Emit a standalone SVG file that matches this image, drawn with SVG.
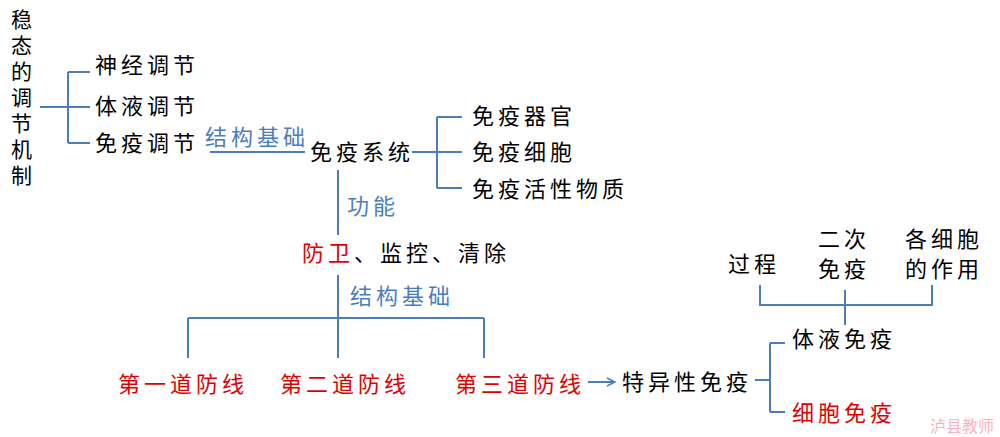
<svg xmlns="http://www.w3.org/2000/svg" width="1000" height="437" viewBox="0 0 1000 437">
<style>
text{font-family:"Noto Sans CJK SC","Noto Sans",sans-serif;font-size:22px;letter-spacing:4px;fill:#000}
.r{fill:#e00000}.b{fill:#4a7ebb}
.l{stroke:#4a7ebb;stroke-width:2;fill:none}
</style>
<defs><marker id="a" markerWidth="10" markerHeight="10" refX="9" refY="5" orient="auto" markerUnits="userSpaceOnUse"><path d="M1,1 L9,5 L1,9" fill="none" stroke="#4a7ebb" stroke-width="1.5"/></marker></defs>
<rect width="1000" height="437" fill="#fff"/>
<g id="connectors">
<path class="l" d="M40,107H68M68,72V143M68,72H90M68,107H90M68,143H90"/>
<path class="l" d="M210,152H305"/>
<path class="l" d="M412,152H437M437,117V188M437,117H462M437,152H462M437,188H462"/>
<path class="l" d="M338,170V235M338,275V318M188,318H484M188,318V358M338,318V358M484,318V358"/>
<path class="l" d="M588,382H615" marker-end="url(#a)"/>
<path class="l" d="M755,380H770M770,343V412M770,343H785M770,412H785"/>
<path class="l" d="M760,285V305H932V285M845,290V325"/>
</g>
<g id="title"><text style="font-size:21px;letter-spacing:0"><tspan x="11" y="27">稳</tspan><tspan x="11" y="53">态</tspan><tspan x="11" y="79">的</tspan><tspan x="11" y="105">调</tspan><tspan x="11" y="131">节</tspan><tspan x="11" y="157">机</tspan><tspan x="11" y="183">制</tspan></text></g>
<g id="n1"><text x="95" y="73">神经调节</text></g>
<g id="n2"><text x="95" y="114">体液调节</text></g>
<g id="n3"><text x="95" y="151">免疫调节</text></g>
<g id="l1"><text class="b" x="205" y="145">结构基础</text></g>
<g id="n4"><text x="310" y="160">免疫系统</text></g>
<g id="n5"><text x="472" y="124">免疫器官</text></g>
<g id="n6"><text x="472" y="160">免疫细胞</text></g>
<g id="n7"><text x="472" y="197">免疫活性物质</text></g>
<g id="l2"><text class="b" x="347" y="214">功能</text></g>
<g id="n8"><text x="302" y="261"><tspan class="r">防卫</tspan>、监控、清除</text></g>
<g id="l3"><text class="b" x="350" y="304">结构基础</text></g>
<g id="n9"><text class="r" x="118" y="392">第一道防线</text></g>
<g id="n10"><text class="r" x="280" y="392">第二道防线</text></g>
<g id="n11"><text class="r" x="455" y="392">第三道防线</text></g>
<g id="n12"><text x="622" y="390">特异性免疫</text></g>
<g id="n13"><text x="792" y="347">体液免疫</text></g>
<g id="n14"><text class="r" x="792" y="421">细胞免疫</text></g>
<g id="n15"><text x="728" y="272">过程</text></g>
<g id="n16"><text x="818" y="247">二次</text><text x="818" y="277">免疫</text></g>
<g id="n17"><text x="905" y="247">各细胞</text><text x="905" y="277">的作用</text></g>
<text x="930" y="432" style="font-size:16px;letter-spacing:0;fill:#f4b6c0">泸县教师</text>
</svg>
